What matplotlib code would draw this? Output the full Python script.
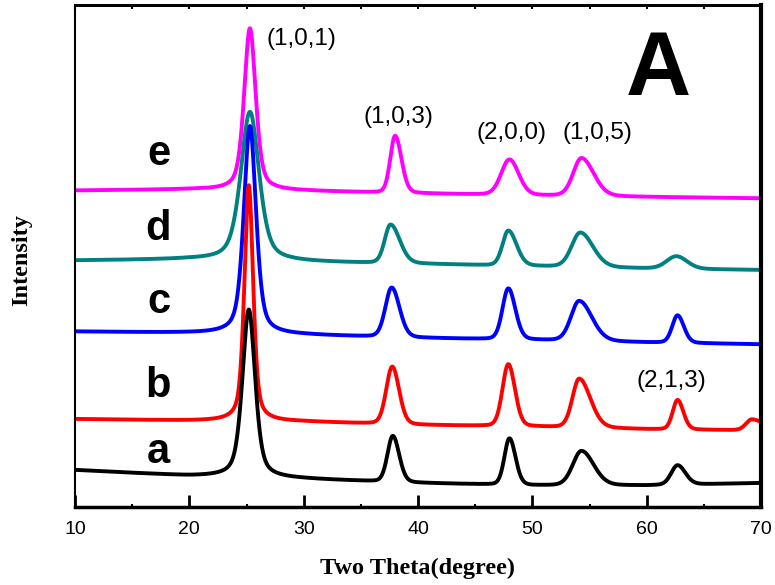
import numpy as np
import matplotlib.pyplot as plt
from matplotlib.ticker import MultipleLocator

# background level of each pattern, read at these angles
bg_x = [10, 20, 30, 40, 50, 60, 70]
bg_a = [37, 31, 28, 24, 21.5, 21.5, 24]
bg_b = [88, 86.3, 85.3, 82, 80.3, 77.7, 76.5]
bg_c = [175.5, 174, 172, 169, 167, 164.5, 162.7]
bg_d = [246.5, 247.5, 245, 243, 240.7, 238.5, 237]
bg_e = [316.5, 317.5, 316, 313.5, 311.5, 310, 308.7]

# peaks: (2theta, height above background, left half width, right half width)
peaks_a = [(25.2, 168, 0.66, 0.66), (37.8, 46, 0.55, 0.65), (48.0, 46.5, 0.52, 0.62),
           (54.3, 34.5, 0.9, 1.25), (62.7, 19.5, 0.65, 0.8)]
peaks_b = [(25.2, 236, 0.45, 0.45), (37.75, 57.5, 0.62, 0.7), (47.9, 62, 0.6, 0.68),
           (54.1, 49, 0.7, 1.15), (62.7, 29.5, 0.5, 0.6), (69.2, 11, 0.6, 1.3)]
peaks_c = [(25.3, 208, 0.63, 0.63), (37.7, 49.5, 0.65, 0.8), (47.9, 51, 0.6, 0.72),
           (54.1, 40, 0.85, 1.3), (62.7, 27.5, 0.55, 0.65)]
peaks_d = [(25.3, 149, 0.95, 0.95), (37.6, 38.5, 0.6, 0.95), (47.9, 35, 0.6, 0.85),
           (54.2, 34.5, 0.9, 1.3), (62.6, 12.5, 1.0, 1.1)]
peaks_e = [(25.3, 162, 0.6, 0.6), (38.0, 57, 0.5, 0.65), (48.0, 35.5, 0.85, 0.95),
           (54.3, 38, 0.85, 1.25)]

samples = ["a", "b", "c", "d", "e"]
colors = ["black", "red", "blue", "#008080", "magenta"]
hkl = ["(1,0,1)", "(1,0,3)", "(2,0,0)", "(1,0,5)", "(2,1,3)"]
hkl_x = [29.8, 38.3, 48.15, 55.7, 62.2]
hkl_y = [462, 384.3, 367.7, 367.7, 120.3]
label_y = [43.7, 110.3, 193.7, 267, 342]


def pattern(x, bg, peaks):
    y = np.interp(x, bg_x, bg)
    for i, (pos, h, wl, wr) in enumerate(peaks):
        w = np.where(x < pos, wl, wr)
        u = (x - pos) / w
        eta = 0.5 if i == 0 else 0.15   # (1,0,1) peak has lorentzian tails
        y = y + h * (eta / (1 + u**2) + (1 - eta) * np.exp(-np.log(2) * u**2))
    return y


tt = np.linspace(10, 70, 3000)
curves = [(bg_a, peaks_a), (bg_b, peaks_b), (bg_c, peaks_c), (bg_d, peaks_d), (bg_e, peaks_e)]

fig = plt.figure(figsize=(7.75, 5.85), dpi=100)
ax = fig.add_axes([75 / 775, 78 / 585, 686 / 775, 502 / 585])

for i in reversed(range(5)):
    bg, pk = curves[i]
    ax.plot(tt, pattern(tt, bg, pk), color=colors[i], lw=2.8, solid_joinstyle="round")
    ax.text(17.3, label_y[i], samples[i], fontsize=30, fontweight="bold",
            family="Liberation Sans", ha="center", va="baseline")

for t, x, y in zip(hkl, hkl_x, hkl_y):
    ax.text(x, y, t, fontsize=17.5, family="Liberation Sans", ha="center", va="baseline")

ax.text(61.0, 412, "A", fontsize=65, fontweight="bold", family="Liberation Sans",
        ha="center", va="baseline")

ax.set_xlim(10, 70)
ax.set_ylim(0, 502)
ax.set_yticks([])
ax.xaxis.set_major_locator(MultipleLocator(10))
ax.xaxis.set_minor_locator(MultipleLocator(5))
ax.tick_params(axis="x", which="major", direction="in", length=9, width=2, pad=10,
               labelsize=14, labelfontfamily="Liberation Sans")
ax.tick_params(axis="x", which="minor", direction="in", length=2, width=1.5)

top = ax.secondary_xaxis("top")
top.xaxis.set_major_locator(MultipleLocator(5))
top.tick_params(direction="in", length=3, width=1.5, labeltop=False)
top.spines["top"].set_linewidth(2)

ax.spines["left"].set_linewidth(1.5)
ax.spines["top"].set_linewidth(2)
ax.spines["right"].set_linewidth(3)
ax.spines["bottom"].set_linewidth(2.5)

ax.set_xlabel("Two Theta(degree)", fontsize=17.5, fontweight="bold",
              family="Liberation Serif", labelpad=14)
fig.text(22 / 775, 1 - 260 / 585, "Intensity", rotation=90, fontsize=17.5,
         fontweight="bold", family="Liberation Serif", ha="center", va="center")

fig.savefig("out.png", dpi=100)
